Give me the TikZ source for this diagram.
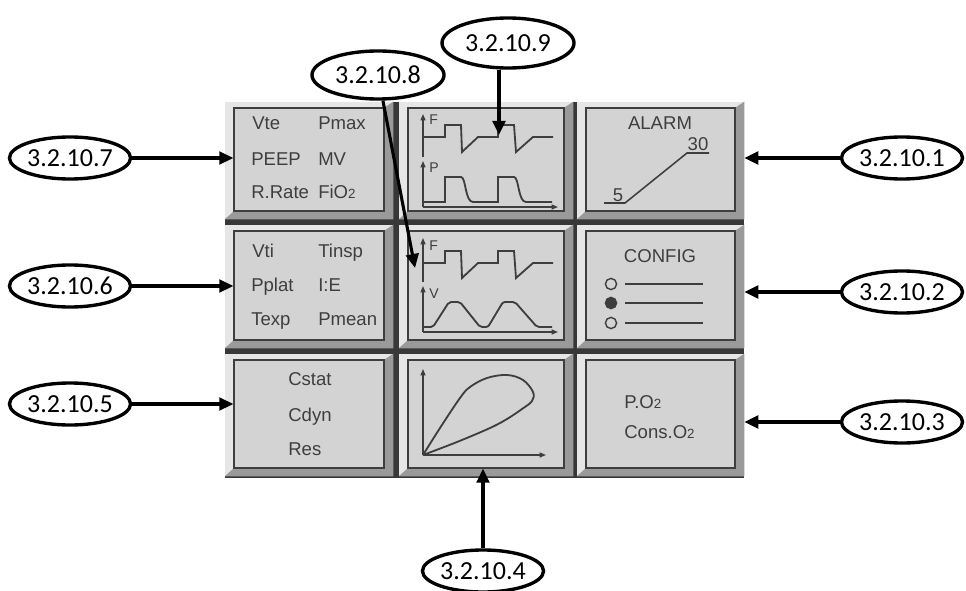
\documentclass[tikz,border=0pt]{standalone}
\usepackage{fontspec}
\setmainfont{Liberation Sans}
\newfontfamily\tagfont{Carlito}
\usetikzlibrary{shapes.geometric,arrows.meta,positioning,calc,fit}

\definecolor{facegray}{HTML}{D3D3D3}
\definecolor{litegray}{HTML}{E6E6E6}
\definecolor{shadegray}{HTML}{9A9A9A}
\definecolor{sepgray}{HTML}{383838}
\definecolor{inkgray}{HTML}{3E3E3E}

% one raised key of the display: x1, y1, x2, y2, name
\newcommand{\dispkey}[5]{%
  \node[fit={(#1,#2) (#3,#4)}, inner sep=0pt, fill=litegray] (#5-key) {};
  \fill[shadegray] (#5-key.north east) -- (#5-key.south east) -- (#5-key.south west)
    -- ++(9,-8) -| ($(#5-key.north east)+(-9,6)$) -- cycle;
  \node[face, fit={(#1+9,#2+6) (#3-9,#4-8)}] (#5) {};
}
\newcommand{\subtwo}{{\fontsize{9.5}{10}\selectfont 2}}

\begin{document}
\begin{tikzpicture}[x=0.025cm, y=-0.025cm,
    face/.style={draw=inkgray, line width=0.9pt, fill=facegray, inner sep=0pt},
    tag/.style={draw, ellipse, line width=2.4pt, fill=white, minimum width=3cm, minimum height=1.05cm, inner sep=0pt, font=\tagfont\fontsize{18.5}{22}\selectfont},
    pointer/.style={line width=2.2pt, -{Triangle[length=10pt, width=9pt]}},
    lbl/.style={text=inkgray, inner sep=0pt, anchor=base west, font=\fontsize{13.2}{15}\selectfont},
    axlbl/.style={text=inkgray, inner sep=0pt, anchor=base west, font=\fontsize{10}{11}\selectfont},
    axis/.style={draw=inkgray, line width=1pt, -{Triangle[length=4.5pt, width=3.5pt]}},
    wave/.style={draw=inkgray, line width=1.3pt},
  ]
  \useasboundingbox (0,0) rectangle (966,591);

  % Display keys
  \fill[sepgray] (225,102) rectangle (744,478);
  \dispkey{225}{102}{393}{219}{kvent}
  \dispkey{225}{225}{393}{348}{kvol}
  \dispkey{225}{354}{393}{476}{kmech}
  \dispkey{399}{102}{573}{219}{kfp}
  \dispkey{399}{225}{573}{348}{kfv}
  \dispkey{399}{354}{573}{476}{kloop}
  \dispkey{577}{102}{744}{219}{kalarm}
  \dispkey{577}{225}{744}{348}{kconfig}
  \dispkey{577}{354}{744}{476}{koxy}

  % Measured values
  \node[lbl] (vte) at (252,129) {Vte};
  \node[lbl] (pmax) at (318,129) {Pmax};
  \node[lbl] (peep) at (251,165) {PEEP};
  \node[lbl] (mv) at (318,165) {MV};
  \node[lbl] (rrate) at (251,198) {R.Rate};
  \node[lbl] (fio) at (318,198) {FiO\subtwo};

  \node[lbl] (vti) at (252,257) {Vti};
  \node[lbl] (tinsp) at (318,257) {Tinsp};
  \node[lbl] (pplat) at (251,291) {Pplat};
  \node[lbl] (ie) at (318,291) {I:E};
  \node[lbl] (texp) at (251,325) {Texp};
  \node[lbl] (pmean) at (318,325) {Pmean};

  \node[lbl] (cstat) at (288,385) {Cstat};
  \node[lbl] (cdyn) at (288,421) {Cdyn};
  \node[lbl] (res) at (288,455) {Res};

  % Flow and pressure curves
  \draw[axis] (423,157) -- (423,114);
  \node[axlbl] (flab1) at (429,124) {F};
  \draw[axis] (423,207) -- (423,161);
  \node[axlbl] (plab) at (429,172) {P};
  \draw[axis] (423,207) -- (558,207);
  \draw[wave] (423,137) -- (445,137) -- (445,125) -- (461,125) -- (462,152) -- (478,137) -- (498,137)
    -- (498,125) -- (514,125) -- (516,152) -- (533,137) -- (553,137);
  \draw[wave] (423,202) -- (445,202) -- (445,177) -- (461,177) .. controls (466,177) and (465,202) .. (473,202)
    -- (498,202) -- (498,177) -- (514,177) .. controls (519,177) and (518,202) .. (526,202) -- (552,202);
  \coordinate (tipfp) at (499,135);

  % Flow and volume curves
  \draw[axis] (423,282) -- (423,238);
  \node[axlbl] (flab2) at (429,250) {F};
  \draw[axis] (423,332) -- (423,286);
  \node[axlbl] (vlab) at (429,298) {V};
  \draw[axis] (423,332) -- (558,332);
  \draw[wave] (423,263) -- (445,263) -- (445,251) -- (461,251) -- (462,278) -- (478,263) -- (498,263)
    -- (498,251) -- (514,251) -- (516,278) -- (533,263) -- (553,263);
  \draw[wave, rounded corners=1.5pt] (423,327) -- (433,327) -- (449,302) -- (460,302) -- (480,327) -- (488,327)
    -- (503,302) -- (515,302) -- (537,327) -- (552,327);
  \coordinate (tipfv) at (415,268);

  % Loop
  \draw[axis] (423,455) -- (423,369);
  \draw[axis] (423,455) -- (546,455);
  \draw[wave] plot[smooth, tension=0.6] coordinates {(423,455) (440,428) (460,398) (470,387) (487,378) (507,375)
    (523,380) (533,392) (532,401) (522,409) (507,419) (490,428) (457,442) (423,455)};

  % Alarm
  \node[lbl, anchor=base] (alarm) at (660,129) {ALARM};
  \node[lbl, anchor=base] (hi) at (698,150) {30};
  \node[lbl, anchor=base] (lo) at (618,201) {5};
  \draw[inkgray, line width=1.1pt] (604,203) -- (625,203) -- (687,153) -- (709,153);

  % Config
  \node[lbl, anchor=base] (config) at (660,262) {CONFIG};
  \draw[inkgray, line width=1pt] (611,284) circle[radius=0.14cm];
  \filldraw[inkgray, line width=1pt] (611,303) circle[radius=0.14cm];
  \draw[inkgray, line width=1pt] (611,323) circle[radius=0.14cm];
  \draw[inkgray, line width=1.2pt] (625,284) -- (703,284);
  \draw[inkgray, line width=1.2pt] (625,303) -- (703,303);
  \draw[inkgray, line width=1.2pt] (625,323) -- (703,323);

  % Oxygen
  \node[lbl] (po) at (624,408) {P.O\subtwo};
  \node[lbl] (cons) at (624,438) {Cons.O\subtwo};

  % Callouts
  \node[tag] (tag7) at (70,158) {3.2.10.7};
  \node[tag] (tag6) at (70,286) {3.2.10.6};
  \node[tag] (tag5) at (70,404) {3.2.10.5};
  \node[tag] (tag1) at (902,158) {3.2.10.1};
  \node[tag] (tag2) at (902,292) {3.2.10.2};
  \node[tag] (tag3) at (902,422) {3.2.10.3};
  \node[tag] (tag4) at (483,571) {3.2.10.4};
  \node[tag, minimum width=3.3cm, minimum height=1.2cm] (tag8) at (378,75) {3.2.10.8};
  \node[tag, minimum width=3.3cm, minimum height=1.25cm] (tag9) at (508,43) {3.2.10.9};

  % Arrows
  \draw[pointer] (tag7) -- (tag7 -| kvent.west);
  \draw[pointer] (tag6) -- (tag6 -| kvol.west);
  \draw[pointer] (tag5) -- (tag5 -| kmech.west);
  \draw[pointer] (tag1) -- (tag1 -| kalarm-key.east);
  \draw[pointer] (tag2) -- (tag2 -| kconfig-key.east);
  \draw[pointer] (tag3) -- (tag3 -| koxy-key.east);
  \draw[pointer] (tag4) -- (tag4 |- kloop.south);
  \draw[pointer] (tag8) -- (tipfv);
  \draw[pointer] (tag9.south -| tipfp) -- (tipfp);
\end{tikzpicture}
\end{document}
